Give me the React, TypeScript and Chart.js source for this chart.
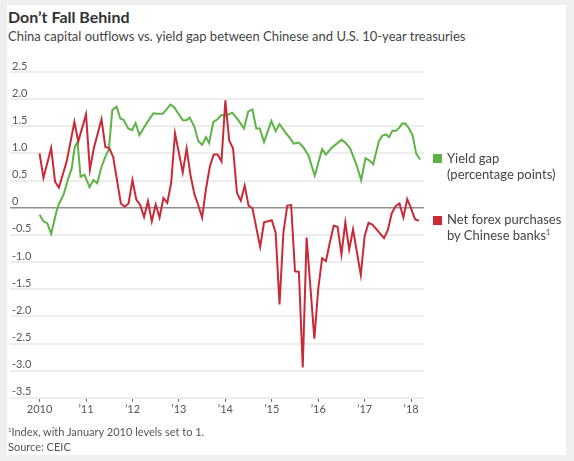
import React, { useEffect, useRef } from "react";
import { Chart, registerables } from "chart.js";

Chart.register(...registerables);

// x values are months since January 2010
const xTickMonths = [0, 12, 24, 36, 48, 60, 72, 84, 96];
const xTickLabels = ["2010", "’11", "’12", "’13", "’14", "’15", "’16", "’17", "’18"];
const yTickValues = [2.5, 2.0, 1.5, 1.0, 0.5, 0, -0.5, -1.0, -1.5, -2.0, -2.5, -3.0, -3.5];

const yieldGapMonths = [
  0, 1, 2, 3, 4.4, 5, 6.2, 6.8, 7.5, 8.3, 8.7, 9.1, 9.8, 10.6, 11.6, 12.9, 13.9, 14.9, 16, 17.1,
  17.9, 18.8, 19.9, 20.9, 21.7, 22.9, 23.9, 24.8, 25.8, 26.9, 28, 29.4, 30.4, 31.8, 32.8, 33.8,
  34.8, 35.7, 37, 37.9, 38.8, 40, 41, 42, 43, 43.8, 44.9, 46, 47, 47.9, 49.8, 51.5, 52.8, 53.9,
  55, 56, 56.9, 58, 59.9, 61, 62, 63.5, 64.4, 65.7, 67, 68.2, 69.5, 71.1, 73, 74, 75.4, 78, 79,
  80.2, 81.8, 83.1, 84.2, 85.3, 86.2, 87.7, 88.6, 89.5, 90.3, 91.2, 92.1, 93, 93.7, 94.5, 95.4,
  96.4, 97.3, 98.3,
];
const yieldGapValues = [
  -0.13, -0.25, -0.29, -0.48, -0.06, 0.07, 0.24, 0.39, 0.56, 0.72, 0.93, 1.12, 1.21, 0.57, 0.61,
  0.38, 0.51, 0.45, 0.75, 0.96, 1.07, 1.8, 1.86, 1.64, 1.62, 1.46, 1.43, 1.56, 1.34, 1.47, 1.59,
  1.74, 1.73, 1.73, 1.81, 1.9, 1.85, 1.75, 1.61, 1.61, 1.66, 1.49, 1.23, 1.16, 1.3, 1.19, 1.58,
  1.63, 1.71, 1.69, 1.75, 1.6, 1.46, 1.77, 1.81, 1.46, 1.46, 1.21, 1.6, 1.41, 1.54, 1.39, 1.31,
  1.18, 1.2, 1.11, 0.96, 0.59, 1.08, 0.98, 1.1, 1.25, 1.2, 1.1, 0.81, 0.51, 0.91, 0.87, 0.8, 1.23,
  1.33, 1.35, 1.3, 1.42, 1.42, 1.48, 1.55, 1.55, 1.47, 1.33, 1.0, 0.89,
];

const forexMonths = [
  0, 1, 3, 4, 5, 7, 9, 10, 12, 13, 14, 16, 17, 18, 19, 21, 22, 23, 24, 25, 26, 27, 28, 29, 30, 31,
  32, 33, 34, 35, 37, 38, 39, 40, 41, 42, 43, 44, 45, 46, 47, 48, 49, 50, 51, 52, 53, 54, 55, 57,
  58, 60, 61, 62, 63, 64, 65, 66, 67, 68, 69, 71, 72, 73, 74, 75, 76, 77, 78, 79, 80, 81, 83, 84,
  85, 86, 89, 90, 91, 92, 93, 94, 95, 96, 97, 98,
];
const forexValues = [
  1.0, 0.55, 1.1, 0.48, 0.37, 0.85, 1.58, 1.22, 1.72, 0.7, 1.09, 1.63, 1.12, 1.1, 0.94, 0.08, 0.02,
  0.08, 0.51, 0.15, 0.05, -0.17, 0.12, -0.25, 0.06, -0.18, 0.18, 0.09, 0.46, 1.37, 0.65, 1.09, 0.6,
  0.25, 0.05, -0.18, 0.35, 0.76, 0.98, 0.98, 0.85, 1.98, 1.24, 1.09, 0.27, 0.13, 0.41, 0.04, -0.01,
  -0.72, -0.27, -0.23, -0.46, -1.78, -0.46, 0.04, 0.05, -1.17, -1.18, -2.94, -0.55, -2.41, -1.5,
  -0.93, -0.98, -0.64, -0.33, -0.35, -0.86, -0.27, -0.77, -0.4, -1.24, -0.52, -0.28, -0.31, -0.56,
  -0.41, -0.1, 0.03, 0.08, -0.18, 0.16, -0.01, -0.21, -0.24,
];

const GREEN = "#5db346";
const RED = "#c92a37";
const FONT = "Lato, 'Open Sans', sans-serif";

export default function App() {
  const canvasRef = useRef<HTMLCanvasElement | null>(null);

  useEffect(() => {
    document.body.style.margin = "0";
    const canvas = canvasRef.current;
    if (!canvas) return;
    const chart = new Chart(canvas, {
      type: "line",
      data: {
        datasets: [
          {
            label: "Net forex purchases by Chinese banks",
            data: forexMonths.map((m, i) => ({ x: m, y: forexValues[i] })),
            borderColor: RED,
            borderWidth: 2,
            pointRadius: 0,
            tension: 0,
            fill: false,
          },
          {
            label: "Yield gap (percentage points)",
            data: yieldGapMonths.map((m, i) => ({ x: m, y: yieldGapValues[i] })),
            borderColor: GREEN,
            borderWidth: 2,
            pointRadius: 0,
            tension: 0,
            fill: false,
          },
        ],
      },
      options: {
        animation: false,
        responsive: false,
        devicePixelRatio: 1,
        layout: { padding: { left: 6, top: 72, right: 150, bottom: 44 } },
        plugins: { legend: { display: false }, tooltip: { enabled: false } },
        scales: {
          x: {
            type: "linear",
            min: -7.64,
            max: 99.33,
            afterBuildTicks: (scale: any) => {
              scale.ticks = xTickMonths.map((v) => ({ value: v }));
            },
            grid: {
              drawOnChartArea: false,
              drawTicks: true,
              tickLength: 4,
              color: "#666",
              lineWidth: 1,
            },
            border: { display: false },
            ticks: {
              autoSkip: false,
              maxRotation: 0,
              padding: 1,
              color: "#555",
              font: { family: FONT, size: 11 },
              callback: (v: any) => {
                const i = xTickMonths.indexOf(Number(v));
                return i >= 0 ? xTickLabels[i] : "";
              },
            },
          },
          y: {
            min: -3.5,
            max: 2.5,
            afterBuildTicks: (scale: any) => {
              scale.ticks = yTickValues.map((v) => ({ value: v }));
            },
            grid: {
              drawTicks: false,
              color: (ctx: any) => (ctx.tick && ctx.tick.value === 0 ? "#8f8f8f" : "#ededed"),
              lineWidth: (ctx: any) => (ctx.tick && ctx.tick.value === 0 ? 1.5 : 2),
            },
            border: { display: false },
            ticks: {
              mirror: true,
              padding: 2,
              labelOffset: -6,
              color: "#555",
              font: { family: FONT, size: 11 },
              callback: (v: any) => (Number(v) === 0 ? "0" : Number(v).toFixed(1)),
            },
          },
        },
      },
    });
    return () => chart.destroy();
  }, []);

  const text = (style: React.CSSProperties, content: React.ReactNode) => (
    <div style={{ position: "absolute", whiteSpace: "nowrap", fontFamily: FONT, lineHeight: 1.2, ...style }}>
      {content}
    </div>
  );

  const sup = (size: number, top: number) => (
    <span style={{ fontSize: size, position: "relative", top, lineHeight: 0 }}>1</span>
  );

  return (
    <div style={{ position: "absolute", left: 0, top: 0, width: 574, height: 461, background: "#efefef", overflow: "hidden" }}>
      <div style={{ position: "absolute", left: 7, top: 5, width: 559, height: 450, background: "#fff" }} />
      {text({ left: 8, top: 7, fontSize: 16, fontWeight: 700, color: "#333" }, "Don’t Fall Behind")}
      {text({ left: 8, top: 29, fontSize: 13, color: "#444" }, "China capital outflows vs. yield gap between Chinese and U.S. 10-year treasuries")}
      <canvas ref={canvasRef} width={574} height={461} style={{ position: "absolute", left: 0, top: 0, width: 574, height: 461 }} />
      <div style={{ position: "absolute", left: 433, top: 154, width: 9, height: 9, background: GREEN }} />
      {text({ left: 447, top: 151, fontSize: 13, color: "#444", lineHeight: "15.5px" }, <>Yield gap<br />(percentage points)</>)}
      <div style={{ position: "absolute", left: 433, top: 216, width: 9, height: 9, background: RED }} />
      {text({ left: 447, top: 212, fontSize: 13, color: "#444", lineHeight: "15.5px" }, <>Net forex purchases<br />by Chinese banks{sup(7, -5)}</>)}
      {text({ left: 8, top: 425, fontSize: 11, color: "#555" }, <>{sup(6, -4)}Index, with January 2010 levels set to 1.</>)}
      {text({ left: 8, top: 440, fontSize: 11, color: "#555" }, "Source: CEIC")}
    </div>
  );
}
